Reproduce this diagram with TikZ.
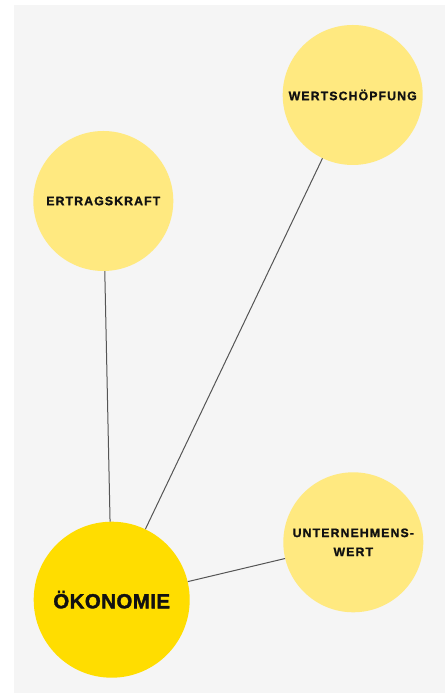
\documentclass[tikz,border=0pt]{standalone}
\usepackage{fontspec}
\setmainfont{Liberation Sans}
\usetikzlibrary{positioning}
\definecolor{bg}{HTML}{F5F5F5}
\definecolor{pale}{HTML}{FFE980}
\definecolor{gold}{HTML}{FFDD00}
\definecolor{link}{HTML}{555555}
\definecolor{ink}{HTML}{111111}
\newcommand{\smalllabel}{\fontsize{12.3}{19}\selectfont\bfseries\addfontfeature{LetterSpace=9,FakeBold=1.2}}
\newcommand{\biglabel}{\fontsize{20.5}{24}\selectfont\bfseries\addfontfeature{LetterSpace=2,FakeBold=1.5}}
\begin{document}
\begin{tikzpicture}[x=1pt,y=1pt,
  topic/.style={circle,fill=pale,minimum size=140pt,inner sep=0pt,text=ink,align=center,font=\smalllabel},
  core/.style={circle,fill=gold,minimum size=156pt,inner sep=0pt,text=ink,font=\biglabel},
  link/.style={draw=link,line width=1pt}]
\useasboundingbox (0,0) rectangle (445,693);
\fill[bg] (14,0) rectangle (445,688);
\node[topic] (W) at (352.7,598) {WERTSCHÖPFUNG};
\node[topic] (E) at (103.3,492) {ERTRAGSKRAFT};
\node[topic] (U) at (353.3,150.7) {UNTERNEHMENS-\\WERT};
\node[core] (O) at (111.7,93.3) {ÖKONOMIE};
\draw[link] (E)--(O);
\draw[link] (W)--(O);
\draw[link] (U)--(O);
\end{tikzpicture}
\end{document}
